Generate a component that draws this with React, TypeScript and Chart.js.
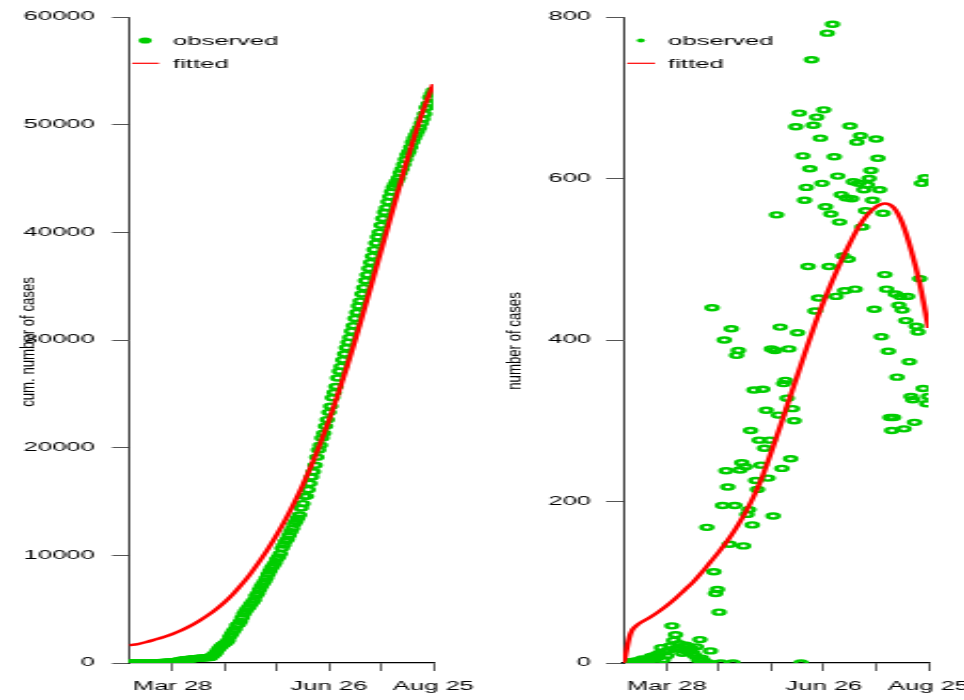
import React, { useEffect, useRef } from 'react';
import { Chart, registerables } from 'chart.js';

Chart.register(...registerables);

// ---------------- data ----------------
const xTickDays = [25, 55, 85, 115, 145, 175];
const xTickLabels = ['Mar 28', '', '', 'Jun 26', '', 'Aug 25'];
const leftYTicks = [0, 10000, 20000, 30000, 40000, 50000, 60000];
const rightYTicks = [0, 200, 400, 600, 800];
const legendLabels = ['observed', 'fitted'];
const leftTitle = 'cum. number of cases';
const rightTitle = 'number of cases';

// daily observed cases, one value per day (day 0 = Mar 3)
const observedDaily = [
  0, 0, 1, 0, 0, 2, 0, 1, 3, 0, 2, 5, 1,
  2, 4, 3, 8, 6, 5, 10, 7, 12, 19, 4, 14, 9, 16, 21, 46, 28, 35, 19, 24, 17, 12, 20, 22, 14, 15, 18, 12, 9, 20, 4, 29, 6, 3, 0,
  168, 0, 15, 440, 113, 86, 91, 63, 0, 195, 400, 238, 218, 147, 414, 0, 195, 381, 387, 239, 248, 145, 243, 184, 190, 288, 171, 338, 226, 215, 276, 245, 339, 266, 313, 229, 276, 389, 182, 387, 555, 307, 416, 241, 346, 350, 328, 389, 253, 315, 300, 664, 409,
  681, 0, 628, 573, 589, 491, 612, 747, 666, 436, 676, 452, 650, 594, 685, 565, 780, 491, 556, 791, 627, 454, 603, 546, 580, 504, 461, 576, 500, 665, 575, 596, 463, 645, 594, 653, 540, 586, 560, 592, 600, 610, 573, 438, 649, 625, 586, 404, 557, 481,
  463, 386, 304, 288, 304, 457, 354, 443, 454, 437, 290, 424, 454, 373, 330, 326, 298, 417, 410, 476, 594, 340, 601, 321, 330,
];

// cumulative observed cases, one value per day
const observedCumulative = [
  0, 0, 1, 1, 1, 3, 3, 4, 7, 7, 9, 14, 15,
  17, 21, 24, 32, 38, 43, 53, 60, 72, 91, 95, 109, 118, 134, 155, 201, 229, 264, 283, 307, 324, 336, 356, 378, 392, 407, 425, 437, 446, 466, 470, 499, 505, 508, 508,
  700, 800, 950, 1200, 1400, 1550, 1700, 1800, 1900, 2100, 2450, 2700, 2950, 3150, 3500, 3600, 3850, 4200, 4550, 4800, 5050, 5200, 5450, 5650, 5850, 6250, 6450, 6800, 7100, 7350, 7600, 7900, 8250, 8550, 8850, 9050, 9300, 9650, 9850, 10150, 10650, 10950, 11300, 11500, 11850, 12200, 12500, 12900, 13150, 13450, 13750, 14400, 14800,
  15480, 15480, 16100, 16680, 17270, 17760, 18370, 19120, 19780, 20220, 20900, 21350, 22000, 22600, 23280, 23850, 24630, 25120, 25680, 26470, 27100, 27550, 28150, 28700, 29280, 29780, 30240, 30820, 31320, 31990, 32560, 33160, 33620, 34270, 34860, 35510, 36050, 36640, 37200, 37790, 38390, 39000, 39570, 40010, 40660, 41280, 41870, 42270, 42830, 43310,
  43770, 44160, 44460, 44750, 45050, 45510, 45860, 46310, 46760, 47200, 47490, 47910, 48370, 48740, 49070, 49400, 49700, 50110, 50520, 51000, 51590, 51930, 52530, 52850, 53180,
];

// fitted cumulative curve (left panel)
const fittedCumDays = [0, 5, 10, 15, 20, 25, 30, 35, 40, 45, 50, 55, 60, 65, 70, 75, 80, 85, 90, 95, 100, 105, 110, 115, 120, 125, 130, 135, 140, 145, 150, 155, 160, 165, 170, 175];
const fittedCumValues = [1650, 1760, 1950, 2180, 2420, 2700, 3030, 3420, 3880, 4400, 4990, 5660, 6440, 7330, 8330, 9430, 10620, 11920, 13330, 14880, 16560, 18400, 20400, 22560, 24880, 27350, 29950, 32680, 35480, 38320, 41150, 43980, 46740, 49350, 51700, 53750];

// fitted daily curve (right panel)
const fittedDailyDays = [0, 1, 2, 3, 4, 5, 6, 8, 10, 15, 20, 25, 30, 35, 40, 45, 50, 55, 60, 65, 70, 75, 80, 85, 90, 95, 100, 105, 110, 115, 120, 125, 130, 135, 140, 145, 150, 155, 160, 165, 170, 175];
const fittedDailyValues = [0, 6, 17, 27, 35, 40, 43, 47, 50, 56, 63, 71, 80, 90, 100, 112, 125, 138, 152, 168, 186, 207, 232, 262, 293, 325, 357, 389, 420, 448, 474, 498, 520, 540, 555, 565, 569, 564, 545, 512, 470, 415];

// ---------------- style ----------------
const S = 2.13333; // horizontal stretch of the original picture
const GREEN = '#00CD00';
const RED = '#FF0000';
const FONT = '"Liberation Sans", Arial, Helvetica, sans-serif';

type PanelProps = {
  left: number;
  internalWidth: number;
  yAxisWidth: number;
  padRight: number;
  yMax: number;
  yTicks: number[];
  observed: number[];
  fitDays: number[];
  fitVals: number[];
  title: string;
  titleX: number;
  titleY: number;
  dotX: number;
  dotR: number;
  lineX0: number;
  lineX1: number;
  textX: number;
  labelPad: number;
};

function Panel(p: PanelProps) {
  const ref = useRef<HTMLCanvasElement>(null);
  useEffect(() => {
    const decor = {
      id: 'decor',
      afterDraw(chart: any) {
        const ctx = chart.ctx as CanvasRenderingContext2D;
        // rotated axis title
        ctx.save();
        ctx.translate(p.titleX, p.titleY);
        ctx.rotate(-Math.PI / 2);
        ctx.scale(1, 0.684);
        ctx.font = `13.2px ${FONT}`;
        ctx.fillStyle = '#000';
        ctx.textAlign = 'center';
        ctx.textBaseline = 'alphabetic';
        ctx.fillText(p.title, 0, 0);
        ctx.restore();
        // legend
        ctx.save();
        ctx.fillStyle = GREEN;
        ctx.beginPath();
        ctx.arc(p.dotX, 40.5, p.dotR, 0, Math.PI * 2);
        ctx.fill();
        ctx.strokeStyle = RED;
        ctx.lineWidth = 1.2;
        ctx.beginPath();
        ctx.moveTo(p.lineX0, 63.3);
        ctx.lineTo(p.lineX1, 63.3);
        ctx.stroke();
        ctx.fillStyle = '#000';
        ctx.font = `12px ${FONT}`;
        ctx.textAlign = 'left';
        ctx.textBaseline = 'alphabetic';
        ctx.fillText(legendLabels[0], p.textX, 45);
        ctx.fillText(legendLabels[1], p.textX, 67.5);
        ctx.restore();
      },
    };

    const chart = new Chart(ref.current as HTMLCanvasElement, {
      type: 'scatter',
      data: {
        datasets: [
          {
            label: legendLabels[0],
            data: p.observed.map((v, i) => ({ x: i, y: v })),
            showLine: false,
            pointStyle: 'circle',
            pointRadius: 2.5,
            radius: 2.5,
            borderWidth: 2.4,
            pointBorderWidth: 2.4,
            borderColor: GREEN,
            pointBorderColor: GREEN,
            backgroundColor: 'rgba(0,0,0,0)',
            pointBackgroundColor: 'rgba(0,0,0,0)',
            clip: 0,
            order: 1,
          } as any,
          {
            type: 'line',
            label: legendLabels[1],
            data: p.fitDays.map((d, i) => ({ x: d, y: p.fitVals[i] })),
            showLine: true,
            pointRadius: 0,
            borderColor: RED,
            borderWidth: 2.5,
            cubicInterpolationMode: 'monotone',
            fill: false,
            clip: 0,
            order: 0,
          } as any,
        ],
      },
      options: {
        responsive: false,
        animation: false,
        devicePixelRatio: 1,
        events: [],
        layout: { padding: { left: 0, top: 17, right: p.padRight, bottom: 0 } },
        plugins: {
          legend: { display: false },
          tooltip: { enabled: false },
          title: { display: false },
        },
        scales: {
          x: {
            type: 'linear',
            min: 0,
            max: 175,
            offset: false,
            afterBuildTicks: (s: any) => {
              s.ticks = xTickDays.map((v) => ({ value: v }));
            },
            afterFit: (s: any) => {
              s.height = 37;
            },
            ticks: {
              autoSkip: false,
              maxRotation: 0,
              minRotation: 0,
              padding: 8,
              color: '#000',
              font: { family: FONT, size: 12 },
              callback: (v: any) => {
                const i = xTickDays.indexOf(Number(v));
                return i >= 0 ? xTickLabels[i] : '';
              },
            },
            grid: { display: true, drawOnChartArea: false, drawTicks: true, tickLength: 8, color: '#333', lineWidth: 0.8 },
            border: { display: true, color: '#000', width: 1.3 },
          },
          y: {
            type: 'linear',
            min: 0,
            max: p.yMax,
            afterBuildTicks: (s: any) => {
              s.ticks = p.yTicks.map((v) => ({ value: v }));
            },
            afterFit: (s: any) => {
              s.width = p.yAxisWidth;
            },
            ticks: {
              padding: p.labelPad,
              color: '#000',
              font: { family: FONT, size: 12 },
              callback: (v: any) => String(v),
            },
            grid: { display: true, drawOnChartArea: false, drawTicks: true, tickLength: 8, color: '#555', lineWidth: 1 },
            border: { display: true, color: '#000', width: 0.75 },
          },
        },
      } as any,
      plugins: [decor],
    });
    return () => chart.destroy();
  }, []);
  return (
    <canvas
      ref={ref}
      width={p.internalWidth}
      height={700}
      style={{
        position: 'absolute',
        left: p.left,
        top: 0,
        width: `${p.internalWidth * S}px`,
        height: '700px',
        display: 'block',
      }}
    />
  );
}

export default function App() {
  return (
    <div
      style={{
        position: 'fixed',
        left: 0,
        top: 0,
        width: 964,
        height: 700,
        overflow: 'hidden',
        background: '#fff',
      }}
    >
      <Panel
        left={0}
        internalWidth={231}
        yAxisWidth={60.47}
        padRight={28}
        yMax={60000}
        yTicks={leftYTicks}
        observed={observedCumulative}
        fitDays={fittedCumDays}
        fitVals={fittedCumValues}
        title={leftTitle}
        titleX={15.6}
        titleY={342}
        dotX={68}
        dotR={3.1}
        lineX0={61.9}
        lineX1={74.5}
        textX={81.1}
        labelPad={8}
      />
      <Panel
        left={480}
        internalWidth={244}
        yAxisWidth={67.03}
        padRight={34}
        yMax={800}
        yTicks={rightYTicks}
        observed={observedDaily}
        fitDays={fittedDailyDays}
        fitVals={fittedDailyValues}
        title={rightTitle}
        titleX={19.2}
        titleY={341}
        dotX={75.3}
        dotR={1.9}
        lineX0={68.9}
        lineX1={82}
        textX={88.1}
        labelPad={7}
      />
    </div>
  );
}
